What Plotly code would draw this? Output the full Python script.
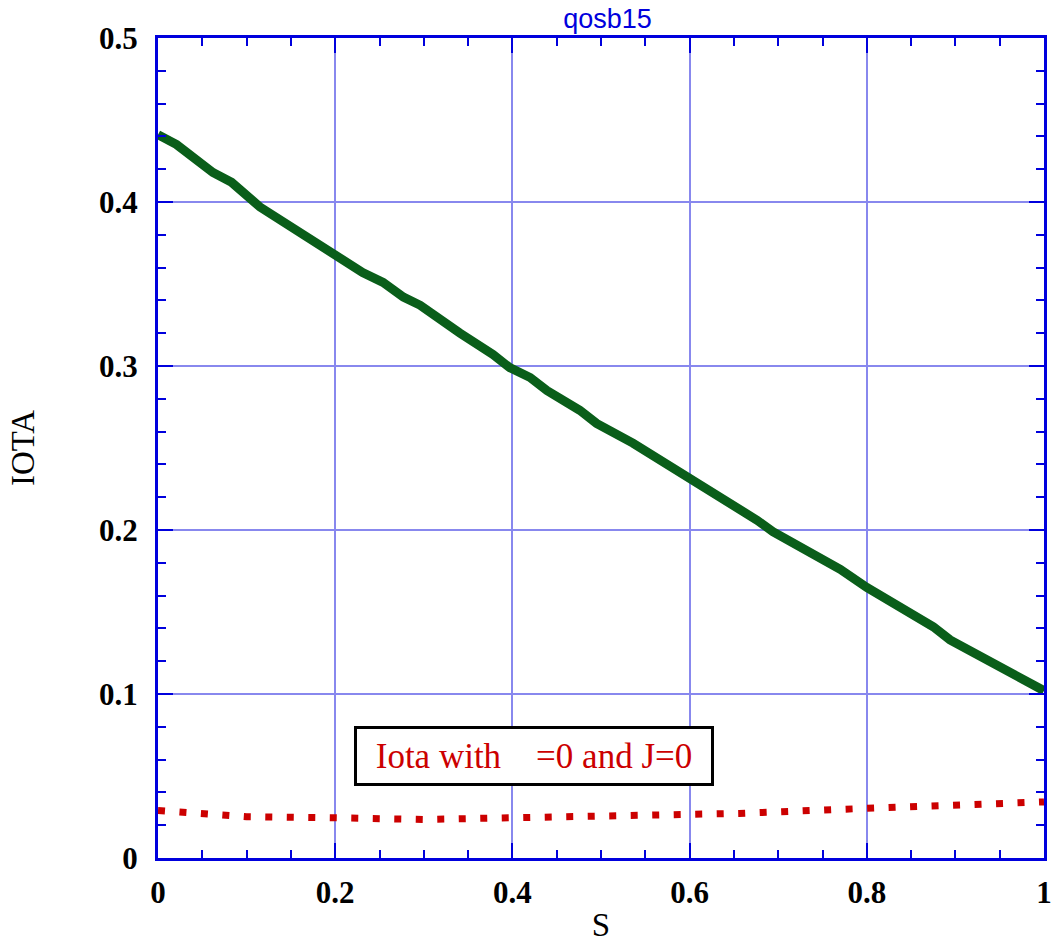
import plotly.graph_objects as go

# Green curve: IOTA vs S
s_iota = [0, 0.021, 0.062, 0.083, 0.115, 0.186, 0.231, 0.254, 0.277, 0.296, 0.318, 0.341,
          0.378, 0.397, 0.420, 0.439, 0.476, 0.495, 0.536, 0.563, 0.600, 0.642, 0.676,
          0.694, 0.770, 0.800, 0.875, 0.894, 1.0]
iota = [0.441, 0.435, 0.418, 0.412, 0.397, 0.372, 0.357, 0.351, 0.342, 0.337, 0.328, 0.320,
        0.307, 0.299, 0.293, 0.285, 0.273, 0.265, 0.253, 0.244, 0.232, 0.217, 0.206,
        0.199, 0.176, 0.165, 0.141, 0.133, 0.102]

# Red dotted curve: iota with current = 0
s_red = [0, 0.053, 0.1, 0.2, 0.3, 0.367, 0.45, 0.55, 0.656, 0.8, 0.9, 1.0]
iota_red = [0.029, 0.0275, 0.0252, 0.0245, 0.0235, 0.0242, 0.0248, 0.0255, 0.0272, 0.0303, 0.032, 0.0342]

x_ticks = [0, 0.2, 0.4, 0.6, 0.8, 1]
x_labels = ["0", "0.2", "0.4", "0.6", "0.8", "1"]
y_ticks = [0, 0.1, 0.2, 0.3, 0.4, 0.5]
y_labels = ["0", "0.1", "0.2", "0.3", "0.4", "0.5"]

BLUE = "#0000dd"
GRID = "#8888ee"

fig = go.Figure()
fig.add_trace(go.Scatter(x=s_iota, y=iota, mode="lines",
                         line=dict(color="#0a5e1a", width=9), showlegend=False, cliponaxis=False))
fig.add_trace(go.Scatter(x=s_red, y=iota_red, mode="lines",
                         line=dict(color="#cc0000", width=7, dash="7px,14.5px"), showlegend=False))

axis_common = dict(
    showline=True, linecolor=BLUE, linewidth=3, mirror="allticks",
    ticks="inside", ticklen=15, tickwidth=2, tickcolor=BLUE,
    showgrid=True, gridcolor=GRID, gridwidth=2, zeroline=False, automargin=False,
    ticklabeloverflow="allow",
    tickfont=dict(family="Liberation Serif", size=31, color="black", weight="bold"),
)

fig.update_xaxes(range=[0, 1], tickvals=x_ticks, ticktext=x_labels,
                 minor=dict(dtick=0.05, ticks="inside", ticklen=8, tickcolor=BLUE, tickwidth=2, showgrid=False),
                 title=dict(text="S", font=dict(family="Liberation Serif", size=33, color="black"), standoff=19),
                 ticklabelstandoff=5, **axis_common)
fig.update_yaxes(range=[0, 0.5], tickvals=y_ticks, ticktext=y_labels,
                 minor=dict(dtick=0.02, ticks="inside", ticklen=8, tickcolor=BLUE, tickwidth=2, showgrid=False),
                 title=dict(text="IOTA", font=dict(family="Liberation Serif", size=33, color="black"), standoff=55),
                 ticklabelstandoff=11, **axis_common)

fig.add_annotation(x=0.424, y=0.062, xref="x", yref="y", showarrow=False,
                   text="Iota with\u00a0\u00a0\u00a0\u00a0=0 and J=0",
                   font=dict(family="Liberation Serif", size=35, color="#cc0000"),
                   bgcolor="white", bordercolor="black", borderwidth=3, borderpad=2,
                   width=350, height=50)

fig.update_layout(
    width=1051, height=943,
    margin=dict(l=158, r=7, t=38, b=85),
    paper_bgcolor="white", plot_bgcolor="white",
    title=dict(text="qosb15", x=0.578, xanchor="center", y=0.99, yanchor="top",
               font=dict(family="Liberation Sans", size=27, color=BLUE)),
)

fig.write_html("out.html")
